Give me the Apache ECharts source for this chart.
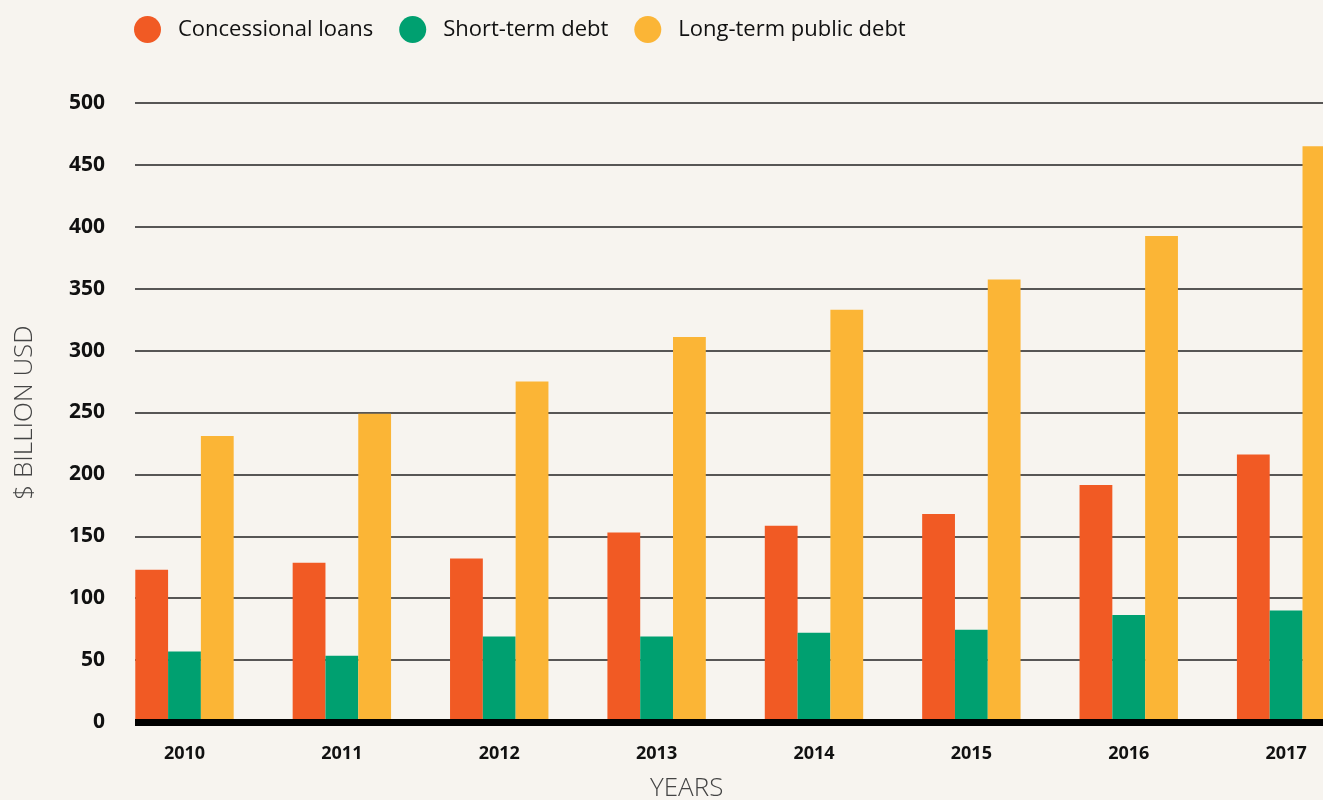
<!DOCTYPE html>
<html>
<head>
<meta charset="utf-8">
<script src="https://cdn.jsdelivr.net/npm/echarts@6/dist/echarts.min.js"></script>
<style>
html,body{margin:0;padding:0;background:#F7F4EF;}
#c{width:1323px;height:800px;}
</style>
</head>
<body>
<div id="c"></div>
<script>
const categories = ['2010','2011','2012','2013','2014','2015','2016','2017'];
const concessional = [123, 128.6, 132, 153, 158.5, 168, 191.5, 216];
const shortTerm = [57, 53.5, 69, 69, 72, 74.5, 86.5, 90];
const longTerm = [231, 249, 275, 311, 333, 357.5, 392.5, 465];
const yTicks = {min: 0, max: 500, interval: 50};

const chart = echarts.init(document.getElementById('c'));
const FONT = '"Open Sans", "Noto Sans", sans-serif';
const TOP = 103, BOTTOM = 78;
chart.setOption({
  backgroundColor: '#F7F4EF',
  animation: false,
  legend: {
    left: 129, top: 11,
    icon: 'circle', itemWidth: 27, itemHeight: 27, itemGap: 26,
    textStyle: {fontFamily: FONT, fontSize: 22, color: '#111', padding: [0,0,0,12]},
    data: ['Concessional loans','Short-term debt','Long-term public debt']
  },
  grid: [
    {left: 105.8, width: 1259, top: TOP, bottom: BOTTOM, containLabel: false, outerBoundsMode: 'none'},
    {left: 135, right: 0, top: TOP, bottom: BOTTOM, containLabel: false, outerBoundsMode: 'none'}
  ],
  xAxis: [
    {type: 'category', gridIndex: 0, data: categories,
     axisLine: {show: false}, axisTick: {show: false},
     axisLabel: {fontFamily: FONT, fontWeight: 'bold', fontSize: 18, color: '#111', margin: 23}},
    {type: 'value', gridIndex: 1, min: 0, max: 1, z: 10,
     axisLine: {show: true, onZero: false, lineStyle: {color: '#000', width: 7, cap: 'butt'}},
     axisTick: {show: false}, axisLabel: {show: false}, splitLine: {show: false}}
  ],
  yAxis: [
    {type: 'value', gridIndex: 0, min: yTicks.min, max: yTicks.max, interval: yTicks.interval, show: false},
    {type: 'value', gridIndex: 1, min: yTicks.min, max: yTicks.max, interval: yTicks.interval, z: 0,
     axisLine: {show: false}, axisTick: {show: false},
     axisLabel: {fontFamily: FONT, fontWeight: 'bold', fontSize: 21, color: '#111', margin: 30},
     splitLine: {show: true, lineStyle: {color: '#222', width: 1.5}},
     name: '$ BILLION USD', nameLocation: 'middle', nameRotate: 90, nameGap: 97,
     nameTextStyle: {fontFamily: FONT, fontWeight: 300, fontSize: 26, color: '#444'}}
  ],
  graphic: [
    {type: 'text', left: 650, top: 776,
     style: {text: 'YEARS', fontFamily: FONT, fontWeight: 300, fontSize: 26, fill: '#444'}}
  ],
  series: [
    {name: 'Concessional loans', type: 'bar', xAxisIndex: 0, yAxisIndex: 0, data: concessional,
     barWidth: 32.8, barGap: '0%', itemStyle: {color: '#F15A24'}},
    {name: 'Short-term debt', type: 'bar', xAxisIndex: 0, yAxisIndex: 0, data: shortTerm,
     barWidth: 32.8, barGap: '0%', itemStyle: {color: '#00A070'}},
    {name: 'Long-term public debt', type: 'bar', xAxisIndex: 0, yAxisIndex: 0, data: longTerm,
     barWidth: 32.8, barGap: '0%', itemStyle: {color: '#FBB536'}}
  ]
});
</script>
</body>
</html>
